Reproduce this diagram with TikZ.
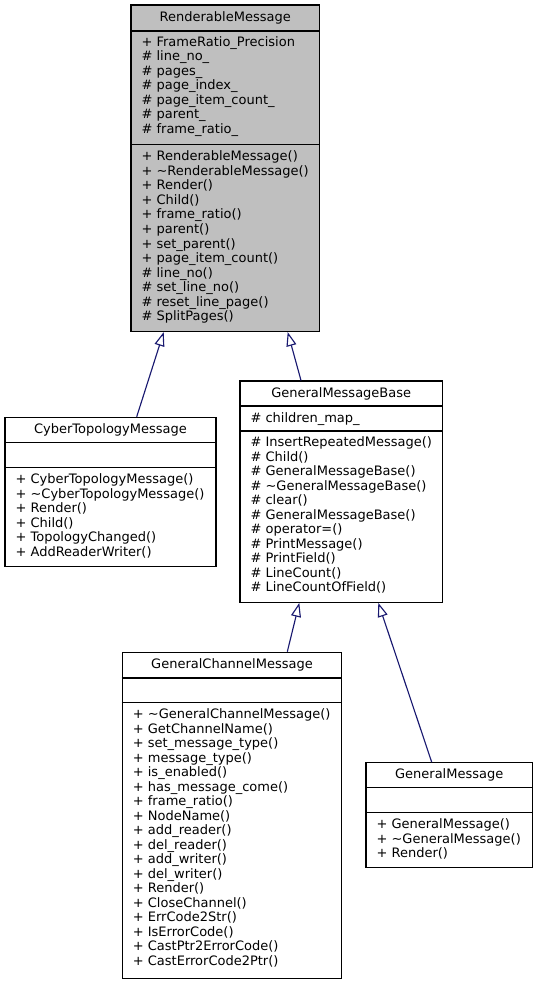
\documentclass[tikz,border=0pt]{standalone}
\usepackage{fontspec}
\setmainfont{DejaVu Sans}
\usetikzlibrary{fit,arrows.meta}
\definecolor{edgeblue}{HTML}{191970}
\definecolor{fillgray}{HTML}{BFBFBF}
\tikzset{
  classbox/.style={draw=black, line width=0.85pt, inner sep=0pt, rectangle},
  mainbox/.style={classbox, fill=fillgray},
  sepline/.style={draw=black, line width=0.85pt},
  txt/.style={anchor=base west, inner sep=0pt, font=\fontsize{9.75}{11}\selectfont},
  ttl/.style={anchor=base, inner sep=0pt, font=\fontsize{9.75}{11}\selectfont},
  inherit/.style={draw=edgeblue, line width=0.85pt, -{Triangle[open, length=10.5pt, width=7.5pt]}},
}
\begin{document}
\begin{tikzpicture}[x=0.75pt,y=-0.75pt]
\useasboundingbox (0,0) rectangle (538,984);

% RenderableMessage
\node[mainbox, fit={(131,5) (319.3,331.5)}] (rm) {};
\draw[sepline] (rm.west |- 0,31) -- (rm.east |- 0,31);
\draw[sepline] (rm.west |- 0,144.5) -- (rm.east |- 0,144.5);
\node[ttl] (rmt) at (225.2,21.5) {RenderableMessage};
\foreach \t [count=\i from 0] in {+ FrameRatio\_Precision, \# line\_no\_, \# pages\_, \# page\_index\_, \# page\_item\_count\_, \# parent\_, \# frame\_ratio\_}
  \node[txt] (rma\i) at (141.3,{46.5+14.5*\i}) {\t};
\foreach \t [count=\i from 0] in {+ RenderableMessage(), + \textasciitilde RenderableMessage(), + Render(), + Child(), + frame\_ratio(), + parent(), + set\_parent(), + page\_item\_count(), \# line\_no(), \# set\_line\_no(), \# reset\_line\_page(), \# SplitPages()}
  \node[txt] (rmm\i) at (141.3,{161+14.5*\i}) {\t};

% CyberTopologyMessage
\node[classbox, fit={(5,417.3) (216,566.7)}] (ctm) {};
\draw[sepline] (ctm.west |- 0,442.7) -- (ctm.east |- 0,442.7);
\draw[sepline] (ctm.west |- 0,467.7) -- (ctm.east |- 0,467.7);
\node[ttl] (ctmt) at (110.5,433.5) {CyberTopologyMessage};
\foreach \t [count=\i from 0] in {+ CyberTopologyMessage(), + \textasciitilde CyberTopologyMessage(), + Render(), + Child(), + TopologyChanged(), + AddReaderWriter()}
  \node[txt] (ctmm\i) at (15.3,{483.5+14.5*\i}) {\t};

% GeneralMessageBase
\node[classbox, fit={(240,381) (442.3,602.3)}] (gmb) {};
\draw[sepline] (gmb.west |- 0,406) -- (gmb.east |- 0,406);
\draw[sepline] (gmb.west |- 0,431) -- (gmb.east |- 0,431);
\node[ttl] (gmbt) at (341.2,397) {GeneralMessageBase};
\node[txt] (gmba0) at (250.3,422.5) {\# children\_map\_};
\foreach \t [count=\i from 0] in {\# InsertRepeatedMessage(), \# Child(), \# GeneralMessageBase(), \# \textasciitilde GeneralMessageBase(), \# clear(), \# GeneralMessageBase(), \# operator=(), \# PrintMessage(), \# PrintField(), \# LineCount(), \# LineCountOfField()}
  \node[txt] (gmbm\i) at (250.3,{446.5+14.5*\i}) {\t};

% GeneralChannelMessage
\node[classbox, fit={(122.3,652.3) (341.7,978.3)}] (gcm) {};
\draw[sepline] (gcm.west |- 0,678) -- (gcm.east |- 0,678);
\draw[sepline] (gcm.west |- 0,702.7) -- (gcm.east |- 0,702.7);
\node[ttl] (gcmt) at (232,668.7) {GeneralChannelMessage};
\foreach \t [count=\i from 0] in {+ \textasciitilde GeneralChannelMessage(), + GetChannelName(), + set\_message\_type(), + message\_type(), + is\_enabled(), + has\_message\_come(), + frame\_ratio(), + NodeName(), + add\_reader(), + del\_reader(), + add\_writer(), + del\_writer(), + Render(), + CloseChannel(), + ErrCode2Str(), + IsErrorCode(), + CastPtr2ErrorCode(), + CastErrorCode2Ptr()}
  \node[txt] (gcmm\i) at (132.6,{718.5+14.5*\i}) {\t};

% GeneralMessage
\node[classbox, fit={(366,762.7) (532.3,867.3)}] (gm) {};
\draw[sepline] (gm.west |- 0,787.7) -- (gm.east |- 0,787.7);
\draw[sepline] (gm.west |- 0,812.7) -- (gm.east |- 0,812.7);
\node[ttl] (gmt) at (449.2,778.7) {GeneralMessage};
\foreach \t [count=\i from 0] in {+ GeneralMessage(), + \textasciitilde GeneralMessage(), + Render()}
  \node[txt] (gmm\i) at (376.3,{828.5+14.5*\i}) {\t};

% inheritance connectors
\draw[inherit] (136.7,0 |- ctm.north) -- (163.7,0 |- rm.south);
\draw[inherit] (301,0 |- gmb.north) -- (287.7,0 |- rm.south);
\draw[inherit] (287.3,0 |- gcm.north) -- (299.3,0 |- gmb.south);
\draw[inherit] (431.7,0 |- gm.north) -- (378.3,0 |- gmb.south);
\end{tikzpicture}
\end{document}
